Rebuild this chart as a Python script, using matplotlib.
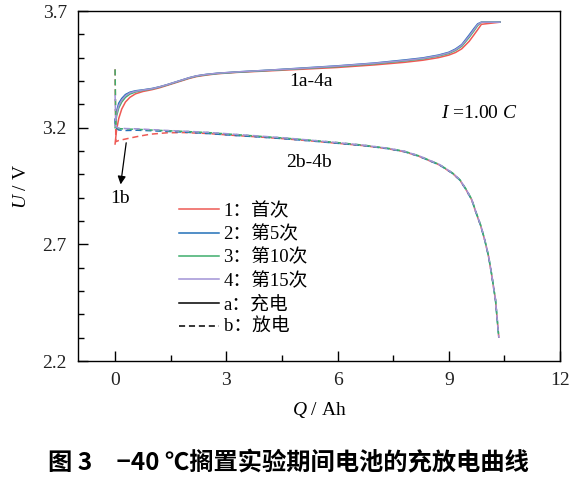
import matplotlib
matplotlib.use("Agg")
import matplotlib.pyplot as plt
from matplotlib.lines import Line2D

plt.rcParams["font.family"] = ["Liberation Serif", "Noto Sans CJK SC"]
plt.rcParams["mathtext.fontset"] = "custom"
plt.rcParams["mathtext.rm"] = "Liberation Serif"
plt.rcParams["mathtext.it"] = "Liberation Serif:italic"

# charge (a) curves, shared capacity grid
q_charge = [0, 0.04, 0.1, 0.18, 0.28, 0.4, 0.55, 0.75, 1.0, 1.2, 1.4, 1.6, 1.8, 2.0, 2.2, 2.45, 2.75,
            3.3, 4.1, 5.0, 6.0, 7.0, 7.8, 8.3, 8.72, 9.0, 9.18, 9.35, 9.55, 9.68, 9.78, 9.88, 10.38]
v_charge_1 = [3.13, 3.19, 3.24, 3.28, 3.31, 3.33, 3.345, 3.355, 3.363, 3.371, 3.381, 3.391, 3.401, 3.411,
              3.419, 3.425, 3.431, 3.437, 3.443, 3.45, 3.458, 3.469, 3.48, 3.489, 3.5, 3.511, 3.522, 3.538,
              3.57, 3.598, 3.62, 3.643, 3.652]
v_charge_5 = [3.22, 3.27, 3.305, 3.325, 3.342, 3.352, 3.358, 3.362, 3.368, 3.375, 3.384, 3.394, 3.404, 3.414,
              3.422, 3.428, 3.433, 3.439, 3.446, 3.455, 3.465, 3.477, 3.49, 3.499, 3.511, 3.523, 3.537, 3.556,
              3.597, 3.625, 3.645, 3.652, 3.652]
v_charge_10 = [3.2, 3.25, 3.285, 3.31, 3.33, 3.344, 3.353, 3.36, 3.366, 3.374, 3.383, 3.393, 3.403, 3.413,
               3.421, 3.427, 3.432, 3.438, 3.445, 3.453, 3.462, 3.474, 3.486, 3.495, 3.507, 3.518, 3.531, 3.549,
               3.587, 3.615, 3.638, 3.652, 3.652]
v_charge_15 = [3.21, 3.26, 3.295, 3.318, 3.337, 3.349, 3.356, 3.361, 3.367, 3.375, 3.384, 3.394, 3.404, 3.414,
               3.422, 3.428, 3.433, 3.439, 3.446, 3.454, 3.464, 3.476, 3.488, 3.497, 3.509, 3.521, 3.534, 3.553,
               3.592, 3.62, 3.642, 3.652, 3.652]

# discharge (b) curves
q_dis = [0, 0.02, 0.1, 0.3, 0.6, 0.95, 1.4, 1.85, 2.5, 3.2, 3.9, 4.6, 5.3, 6.0, 6.7,
         7.35, 7.8, 8.2, 8.75, 9.1, 9.3, 9.47, 9.62, 9.74, 9.86, 9.97, 10.07, 10.15, 10.26, 10.35]
v_dis_1 = [3.45, 3.14, 3.145, 3.152, 3.162, 3.172, 3.178, 3.179, 3.175, 3.167, 3.16, 3.152, 3.143, 3.133, 3.123,
           3.11, 3.097, 3.077, 3.04, 3.004, 2.975, 2.933, 2.89, 2.833, 2.78, 2.718, 2.65, 2.576, 2.461, 2.30]
v_dis_5 = [3.24, 3.20, 3.19, 3.188, 3.189, 3.187, 3.184, 3.181, 3.175, 3.167, 3.16, 3.152, 3.143, 3.133, 3.123,
           3.11, 3.097, 3.077, 3.04, 3.004, 2.975, 2.933, 2.89, 2.833, 2.78, 2.718, 2.65, 2.576, 2.461, 2.30]
v_dis_10 = [3.45, 3.20, 3.196, 3.194, 3.193, 3.19, 3.187, 3.184, 3.179, 3.171, 3.163, 3.155, 3.146, 3.136, 3.125,
            3.112, 3.099, 3.079, 3.042, 3.006, 2.977, 2.936, 2.893, 2.836, 2.783, 2.72, 2.652, 2.578, 2.463, 2.30]
v_dis_15 = [3.34, 3.205, 3.198, 3.196, 3.195, 3.192, 3.188, 3.185, 3.18, 3.172, 3.164, 3.156, 3.146, 3.136, 3.125,
            3.112, 3.099, 3.079, 3.042, 3.006, 2.977, 2.935, 2.892, 2.835, 2.782, 2.72, 2.652, 2.578, 2.463, 2.30]

cycle_labels = ["1：首次", "2：第5次", "3：第10次", "4：第15次"]
colors = ["#EE5A55", "#2270B8", "#3FAE6C", "#A293D6"]
dash = (0, (4, 2.5))

fig = plt.figure(figsize=(5.76, 4.78), dpi=100)
ax = fig.add_axes([78 / 576, 1 - 361 / 478, 482 / 576, 350 / 478])

charges = [v_charge_1, v_charge_5, v_charge_10, v_charge_15]
dis = [v_dis_1, v_dis_5, v_dis_10, v_dis_15]
for v, c in zip(charges, colors):
    ax.plot(q_charge, v, color=c, linewidth=1.1)
for v, c in zip(dis, colors):
    ax.plot(q_dis, v, color=c, linewidth=1.1, linestyle=dash)

ax.set_xlim(-1, 12)
ax.set_ylim(2.2, 3.7)
ax.set_xticks([0, 3, 6, 9, 12])
ax.set_xticks([1.5, 4.5, 7.5, 10.5], minor=True)
ax.set_yticks([2.2, 2.7, 3.2, 3.7])
ax.set_yticks([2.3, 2.4, 2.5, 2.6, 2.8, 2.9, 3.0, 3.1, 3.3, 3.4, 3.5, 3.6], minor=True)
ax.tick_params(which="both", direction="in", labelsize=14, width=1, top=False, right=False,
               labelcolor="#222222")
ax.tick_params(which="major", length=7.5, pad=8)
ax.tick_params(which="minor", length=4.5)
for s in ax.spines.values():
    s.set_linewidth(1)

ax.set_xlabel(r"$Q$ / Ah", fontsize=14, labelpad=8)
ax.set_ylabel(r"$U$ / V", fontsize=14, labelpad=9)

ax.text(5.28, 3.40, "1a-4a", fontsize=14, ha="center", va="center")
ax.text(5.23, 3.05, "2b-4b", fontsize=14, ha="center", va="center")
ax.text(9.82, 3.26, r"$I$ =1.00 $C$", fontsize=14, ha="center", va="center")
ax.annotate("", xy=(0.14, 2.945), xytext=(0.31, 3.147),
            arrowprops=dict(arrowstyle="-|>", color="black", lw=0.9, mutation_scale=12))
ax.text(0.13, 2.895, "1b", fontsize=14, ha="center", va="center")

handles = [Line2D([], [], color=c, linewidth=1.1) for c in colors]
handles += [Line2D([], [], color="black", linewidth=1.1),
            Line2D([], [], color="black", linewidth=1.1, linestyle=dash)]
labels = cycle_labels + ["a：充电", "b：放电"]
ax.legend(handles, labels, loc="upper left", bbox_to_anchor=(0.195, 0.475), frameon=False,
          fontsize=13.5, handlelength=2.1, handletextpad=0.25, labelspacing=0.31, borderaxespad=0)

fig.text(0.5, 1 - 462 / 478, "图 3　−40 ℃搁置实验期间电池的充放电曲线", ha="center", va="center",
         fontsize=17.5, fontweight="bold", family=["Noto Sans CJK SC", "DejaVu Sans"])

fig.savefig("out.png", dpi=100)
